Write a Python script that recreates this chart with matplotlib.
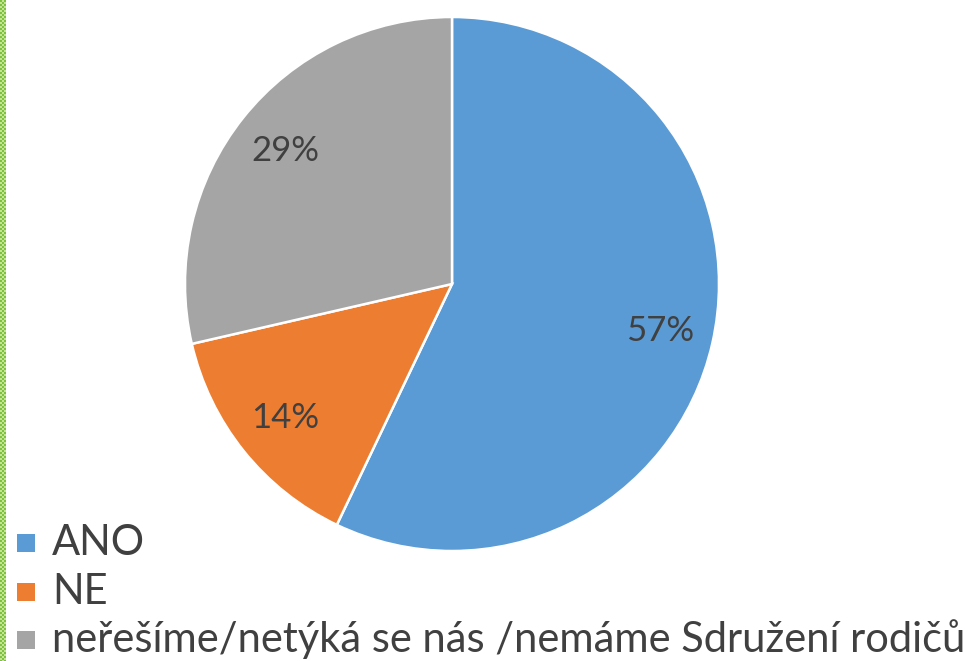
import numpy as np
import matplotlib
matplotlib.use("Agg")
import matplotlib.pyplot as plt
from matplotlib.patches import Rectangle

labels = ["ANO", "NE", "neřešíme/netýká se nás /nemáme Sdružení rodičů"]
values = [57.1, 14.3, 28.6]
colors = ["#5B9BD5", "#ED7D31", "#A5A5A5"]

W, H = 974, 661
fig = plt.figure(figsize=(W / 100, H / 100), dpi=100)
ax = fig.add_axes([0, 0, 1, 1])
ax.set_axis_off()

cx, cy, R = 452, 284, 267

FONT = ["Lato", "DejaVu Sans"]
wedges, texts, autotexts = ax.pie(
    values, colors=colors, startangle=90, counterclock=False,
    autopct="%.0f%%", pctdistance=0.8, radius=1,
    wedgeprops=dict(edgecolor="white", linewidth=1.8),
    textprops=dict(color="#404040", fontsize=25, family=FONT),
)
ax.set_aspect("auto")
ax.set_xlim(-cx / R, (W - cx) / R)
ax.set_ylim(-(H - cy) / R, cy / R)

# legend (manual)
base = [555, 604, 652]
for lab, col, b in zip(labels, colors, base):
    fig.patches.append(Rectangle((17 / W, 1 - (b - 3) / H), 18 / W, 18 / H,
                                 transform=fig.transFigure, facecolor=col,
                                 edgecolor="none"))
    fig.text(52 / W, 1 - b / H, lab, fontsize=30, color="#404040",
             family=FONT, va="baseline", ha="left")

# green checkered left border
chk = np.ones((H, 7, 3))
green = np.array([0.49, 0.76, 0.26])
light = np.array([0.78, 0.90, 0.58])
for y in range(H):
    for x in range(6):
        chk[y, x] = green if ((y // 2 + x // 2) % 2 == 0) else light
fig.figimage(chk, xo=0, yo=0, origin="upper", zorder=10)

fig.savefig("out.png", dpi=100)
